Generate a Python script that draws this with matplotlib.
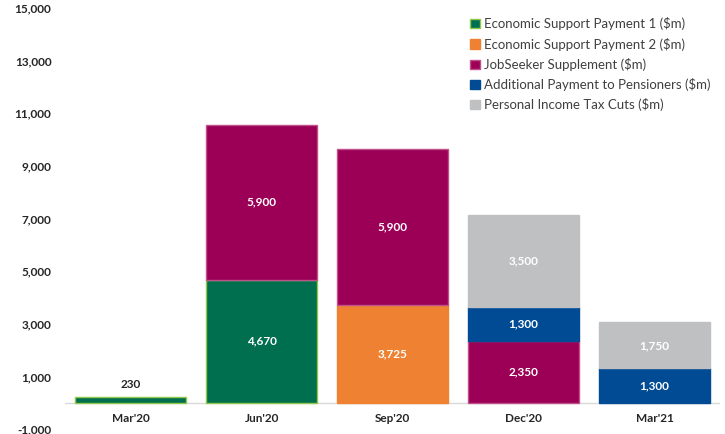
import numpy as np
import matplotlib.pyplot as plt

plt.rcParams['font.family'] = ['Lato', 'DejaVu Sans']

quarters = ["Mar'20", "Jun'20", "Sep'20", "Dec'20", "Mar'21"]

# stacked from the bottom up, $m
esp1 = [230, 4670, 0, 0, 0]
esp2 = [0, 0, 3725, 0, 0]
jobseeker = [0, 5900, 5900, 2350, 0]
pensioners = [0, 0, 0, 1300, 1300]
tax_cuts = [0, 0, 0, 3500, 1750]

series = [
    ('Economic Support Payment 1 ($m)', esp1, '#006F4F', '#92C84A'),
    ('Economic Support Payment 2 ($m)', esp2, '#EF8232', '#EF8232'),
    ('JobSeeker Supplement ($m)', jobseeker, '#9B0056', '#C0508A'),
    ('Additional Payment to Pensioners ($m)', pensioners, '#004B93', '#004B93'),
    ('Personal Income Tax Cuts ($m)', tax_cuts, '#BFC0C2', '#BFC0C2'),
]

fig = plt.figure(figsize=(7.25, 4.34), dpi=100)
ax = fig.add_axes([0.09, 0.0115, 0.903, 0.97])

x = np.arange(len(quarters))
bottom = np.zeros(len(quarters))
for name, vals, col, edge in series:
    vals = np.array(vals, dtype=float)
    keep = vals > 0
    ax.bar(x[keep], vals[keep], 0.85, bottom=bottom[keep], color=col,
           edgecolor=edge, linewidth=1.0, label=name)
    for xi, b, v in zip(x[keep], bottom[keep], vals[keep]):
        if v < 1000:
            ax.text(xi, b + v + 250, f'{int(v):,}', ha='center', va='bottom',
                    fontsize=8.5, fontweight='bold', color='#262626')
        else:
            ax.text(xi, b + v / 2, f'{int(v):,}', ha='center', va='center',
                    fontsize=8.5, fontweight='bold', color='white')
    bottom += vals

ax.set_xlim(-0.5, 4.5)
ax.set_ylim(-1000, 15000)
ax.set_yticks(np.arange(-1000, 15001, 2000))
ax.set_yticklabels([f'{t:,}' for t in range(-1000, 15001, 2000)])
ax.set_xticks([])
for q, xi in zip(quarters, x):
    ax.text(xi, -600, q, ha='center', va='center', fontsize=8.5,
            fontweight='bold', color='#262626')

ax.axhline(0, color='#D9D9D9', linewidth=1.0, zorder=0)
for s in ax.spines.values():
    s.set_visible(False)
ax.tick_params(axis='y', length=0, pad=10, labelsize=8.5, labelcolor='#262626')
for lab in ax.get_yticklabels():
    lab.set_fontweight('bold')

leg = ax.legend(loc='upper right', bbox_to_anchor=(1.0, 1.0), frameon=False,
                fontsize=9.5, handlelength=0.7, handleheight=0.7,
                handletextpad=0.35, labelspacing=0.55, borderaxespad=0.3)
for t in leg.get_texts():
    t.set_color('#404040')

fig.savefig('out.png', dpi=100)
